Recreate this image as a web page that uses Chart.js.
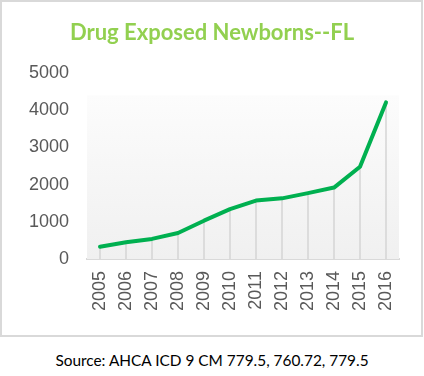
<!DOCTYPE html>
<html>
<head>
<meta charset="utf-8">
<script src="https://cdn.jsdelivr.net/npm/chart.js@4"></script>
<style>
  html, body { margin: 0; padding: 0; background: #fff; }
  #wrap { position: relative; width: 424px; height: 376px; }
  #frame { position: absolute; left: 0; top: 0; width: 423px; height: 337px; box-sizing: border-box; border: 2.5px solid #d9d9d9; }
  #c { position: absolute; left: 0; top: 0; }
  #title { position: absolute; left: 0; top: 18px; width: 424px; text-align: center; font-family: Lato, sans-serif; font-weight: bold; font-size: 22px; line-height: 28px; color: #92d050; }
  #src { position: absolute; left: 0; top: 351px; width: 424px; text-align: center; font-family: Lato, "Open Sans", sans-serif; font-size: 15.4px; color: #000; }
</style>
</head>
<body>
<div id="wrap">
  <div id="frame"></div>
  <canvas id="c" width="424" height="340"></canvas>
  <div id="title">Drug Exposed Newborns--FL</div>
  <div id="src">Source: AHCA ICD 9 CM 779.5, 760.72, 779.5</div>
</div>
<script>
const years = ["2005","2006","2007","2008","2009","2010","2011","2012","2013","2014","2015","2016"];
const newborns = [330, 450, 540, 700, 1030, 1340, 1570, 1630, 1770, 1920, 2480, 4210];
const yTicks = [0, 1000, 2000, 3000, 4000, 5000];
const shadeTop = 4400;

const plotShade = {
  id: 'plotShade',
  beforeDatasetsDraw(chart) {
    const { ctx, chartArea } = chart;
    const y = chart.scales.y;
    const top = y.getPixelForValue(shadeTop);
    const bottom = y.getPixelForValue(0);
    const g = ctx.createLinearGradient(0, top, 0, bottom);
    g.addColorStop(0, '#fcfcfc');
    g.addColorStop(1, '#f0f0f0');
    ctx.save();
    ctx.fillStyle = g;
    ctx.fillRect(chartArea.left, top, chartArea.right - chartArea.left, bottom - top);
    const meta = chart.getDatasetMeta(0);
    ctx.strokeStyle = '#d4d4d4';
    ctx.lineWidth = 1.5;
    meta.data.forEach(pt => {
      ctx.beginPath();
      ctx.moveTo(pt.x, pt.y);
      ctx.lineTo(pt.x, bottom);
      ctx.stroke();
    });
    ctx.restore();
  }
};

new Chart(document.getElementById('c'), {
  type: 'line',
  data: {
    labels: years,
    datasets: [{
      data: newborns,
      borderColor: '#00b050',
      borderWidth: 4,
      borderCapStyle: 'round',
      borderJoinStyle: 'round',
      pointRadius: 0,
      tension: 0,
      fill: false
    }]
  },
  options: {
    responsive: false,
    animation: false,
    devicePixelRatio: 1,
    layout: { padding: { top: 73, right: 25, bottom: 0, left: 0 } },
    plugins: {
      legend: { display: false },
      tooltip: { enabled: false },
      title: { display: false }
    },
    scales: {
      x: {
        offset: true,
        grid: { display: false, drawTicks: false },
        border: { display: true, color: '#d9d9d9', width: 2 },
        ticks: {
          color: '#595959',
          font: { family: 'Liberation Sans', size: 18 },
          minRotation: 90,
          maxRotation: 90,
          padding: 12,
          autoSkip: false
        },
        afterFit(s) { s.height = 81; }
      },
      y: {
        min: 0,
        max: 5000,
        afterBuildTicks(s) { s.ticks = yTicks.map(v => ({ value: v })); },
        grid: { display: false, drawTicks: false },
        border: { display: false },
        ticks: {
          color: '#595959',
          font: { family: 'Liberation Sans', size: 18 },
          padding: 18,
          callback: v => String(v)
        },
        afterFit(s) { s.width = 87; }
      }
    }
  },
  plugins: [plotShade]
});
</script>
</body>
</html>
